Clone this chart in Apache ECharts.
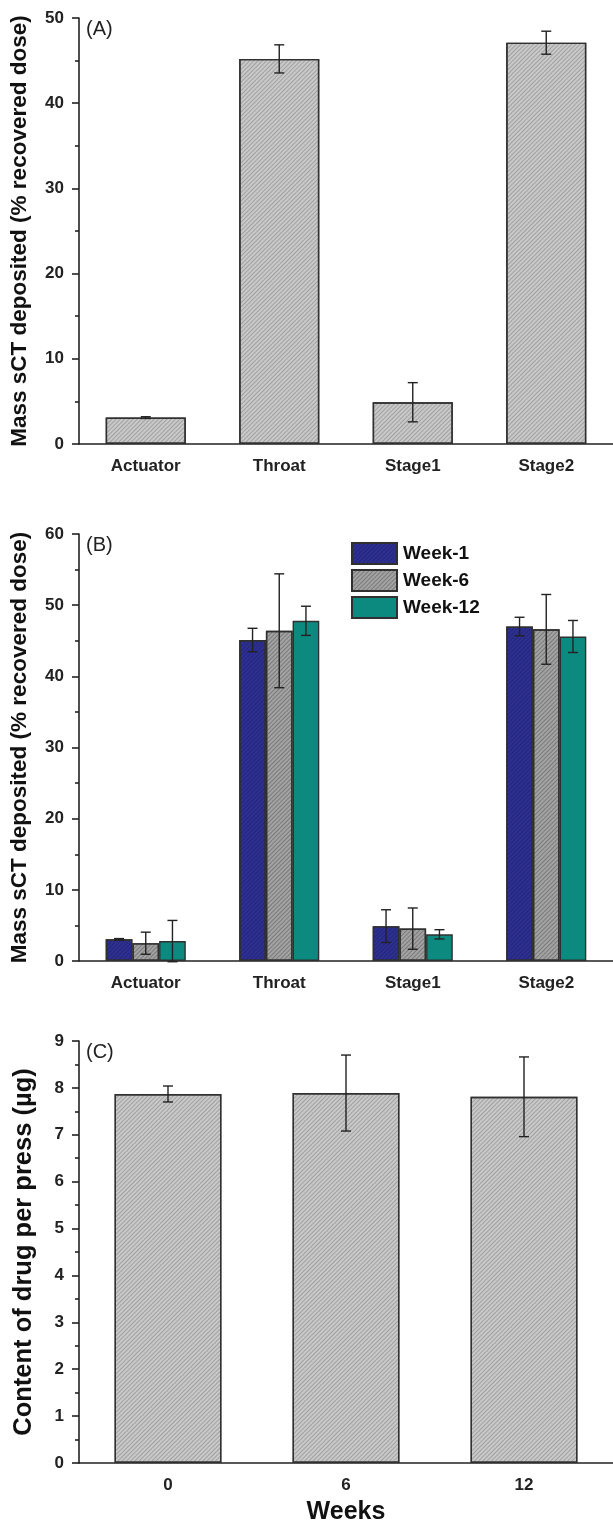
<html>
<head>
    <title></title>
    <meta charset="utf-8">
    <script src="https://cdn.jsdelivr.net/npm/echarts@6/dist/echarts.min.js" type="text/javascript"></script>
    <style>
        html, body { margin: 0; padding: 0; background: #fff; }
    </style>
</head>
<body>
    <div id="main" style="width: 613px; height: 1526px"></div>
    <script>
        // panel A / B categories
        var stages = ['Actuator', 'Throat', 'Stage1', 'Stage2'];
        // panel A
        var massA = [3.1, 45.2, 4.9, 47.1];
        var errA = [0.1, 1.65, 2.3, 1.35];
        // panel B
        var week1 = [3.05, 45.1, 4.9, 47.0];
        var err1 = [0.1, 1.65, 2.3, 1.3];
        var week6 = [2.5, 46.4, 4.55, 46.6];
        var err6 = [1.55, 8.0, 2.9, 4.9];
        var week12 = [2.8, 47.8, 3.75, 45.6];
        var err12 = [2.9, 2.05, 0.65, 2.25];
        // panel C
        var weeks = ['0', '6', '12'];
        var contentC = [7.87, 7.89, 7.81];
        var errC = [0.17, 0.81, 0.85];

        var font = 'Liberation Sans';
        var ink = '#222';

        function hatch(color) {
            return {
                symbol: 'rect', symbolSize: 1,
                dashArrayX: [1, 0], dashArrayY: [1, 2],
                rotation: -Math.PI / 4, color: color
            };
        }

        function errData(means, errs) {
            var out = [];
            for (var i = 0; i < means.length; i++) out.push([i, means[i], errs[i]]);
            return out;
        }

        // offset: position of the bar inside the category, in band fractions
        function errSeries(x, y, means, errs, offset) {
            return {
                type: 'custom', xAxisIndex: x, yAxisIndex: y, z: 10,
                data: errData(means, errs),
                renderItem: function (params, api) {
                    var i = api.value(0), m = api.value(1), e = api.value(2);
                    var band = api.size([1, 0])[0];
                    var c = api.coord([i, m]);
                    var cx = c[0] + band * offset;
                    var top = api.coord([i, m + e])[1];
                    var bot = api.coord([i, m - e])[1];
                    var w = 5;
                    var st = { stroke: ink, lineWidth: 1.4 };
                    return {
                        type: 'group', children: [
                            { type: 'line', shape: { x1: cx, y1: top, x2: cx, y2: bot }, style: st },
                            { type: 'line', shape: { x1: cx - w, y1: top, x2: cx + w, y2: top }, style: st },
                            { type: 'line', shape: { x1: cx - w, y1: bot, x2: cx + w, y2: bot }, style: st }
                        ]
                    };
                }
            };
        }

        function mainX(grid, data, extra) {
            var ax = {
                type: 'category', gridIndex: grid, data: data,
                axisLine: { lineStyle: { color: ink, width: 1.6 } },
                axisTick: { alignWithLabel: true, length: 8, lineStyle: { color: ink, width: 1.6 } },
                axisLabel: { interval: 0, margin: 14, color: ink, fontFamily: font, fontWeight: 'bold', fontSize: 17 },
                splitLine: { show: false }
            };
            for (var k in extra) ax[k] = extra[k];
            return ax;
        }

        function edgeX(grid, data) {
            return {
                type: 'category', gridIndex: grid, data: data,
                axisLine: { show: false },
                axisTick: { length: 5, lineStyle: { color: ink, width: 1.6 } },
                axisLabel: { show: false },
                splitLine: { show: false }
            };
        }

        function valueY(grid, max, step, name, nameSize, nameGap) {
            return {
                type: 'value', gridIndex: grid, min: 0, max: max, interval: step,
                name: name, nameLocation: 'middle', nameGap: nameGap,
                nameTextStyle: { color: '#111', fontFamily: font, fontWeight: 'bold', fontSize: nameSize },
                axisLine: { show: true, lineStyle: { color: ink, width: 1.6 } },
                axisTick: { show: true, length: 7, lineStyle: { color: ink, width: 1.6 } },
                minorTick: { show: true, splitNumber: 2, length: 4, lineStyle: { color: ink, width: 1.6 } },
                axisLabel: { margin: 15, color: ink, fontFamily: font, fontWeight: 'bold', fontSize: 17 },
                splitLine: { show: false }
            };
        }

        var grayBar = { color: '#c9c9c9', borderColor: '#303030', borderWidth: 1.4, decal: hatch('rgba(110,110,110,0.45)') };

        window.onload = function () {
            var myChart = echarts.init(document.getElementById('main'));

            var option = {
                animation: false,
                backgroundColor: '#fff',
                grid: [
                    { left: 79, top: 18, width: 534, height: 426 },
                    { left: 79, top: 534, width: 534, height: 427 },
                    { left: 79, top: 1041, width: 534, height: 425 }
                ],
                xAxis: [
                    mainX(0, stages, {}), edgeX(0, stages),
                    mainX(1, stages, {}), edgeX(1, stages),
                    mainX(2, weeks, {
                        name: 'Weeks', nameLocation: 'middle', nameGap: 37,
                        nameTextStyle: { color: '#111', fontFamily: font, fontWeight: 'bold', fontSize: 25 }
                    }), edgeX(2, weeks)
                ],
                yAxis: [
                    valueY(0, 50, 10, 'Mass sCT deposited (% recovered dose)', 22.5, 48),
                    valueY(1, 60, 10, 'Mass sCT deposited (% recovered dose)', 22.5, 48),
                    valueY(2, 9, 1, 'Content of drug per press (\u00b5g)', 25.5, 42)
                ],
                legend: {
                    data: ['Week-1', 'Week-6', 'Week-12'],
                    orient: 'vertical', left: 346, top: 537,
                    itemWidth: 45, itemHeight: 21, itemGap: 4,
                    icon: 'rect',
                    textStyle: { color: '#111', fontFamily: font, fontWeight: 'bold', fontSize: 19, padding: [0, 0, 0, 1] }
                },
                graphic: [
                    { type: 'text', left: 86, top: 19, style: { text: '(A)', font: '20px "Liberation Sans"', fill: ink } },
                    { type: 'text', left: 86, top: 535, style: { text: '(B)', font: '20px "Liberation Sans"', fill: ink } },
                    { type: 'text', left: 86, top: 1042, style: { text: '(C)', font: '20px "Liberation Sans"', fill: ink } }
                ],
                series: [
                    { type: 'bar', xAxisIndex: 0, yAxisIndex: 0, data: massA, barWidth: '60%', itemStyle: grayBar },
                    errSeries(0, 0, massA, errA, 0),

                    {
                        type: 'bar', name: 'Week-1', xAxisIndex: 2, yAxisIndex: 1, data: week1,
                        barGap: '0%', barCategoryGap: '40%',
                        itemStyle: { color: '#2d3090', borderColor: '#303030', borderWidth: 1.4, decal: hatch('rgba(20,20,80,0.35)') }
                    },
                    {
                        type: 'bar', name: 'Week-6', xAxisIndex: 2, yAxisIndex: 1, data: week6,
                        barGap: '0%', barCategoryGap: '40%',
                        itemStyle: { color: '#a3a3a3', borderColor: '#303030', borderWidth: 1.4, decal: hatch('rgba(70,70,70,0.45)') }
                    },
                    {
                        type: 'bar', name: 'Week-12', xAxisIndex: 2, yAxisIndex: 1, data: week12,
                        barGap: '0%', barCategoryGap: '40%',
                        itemStyle: { color: '#0d8a80', borderColor: '#303030', borderWidth: 1.4 }
                    },
                    errSeries(2, 1, week1, err1, -0.2),
                    errSeries(2, 1, week6, err6, 0),
                    errSeries(2, 1, week12, err12, 0.2),

                    { type: 'bar', xAxisIndex: 4, yAxisIndex: 2, data: contentC, barWidth: '60%', itemStyle: grayBar },
                    errSeries(4, 2, contentC, errC, 0)
                ]
            };
            myChart.setOption(option);
        };
    </script>
</body>
</html>
